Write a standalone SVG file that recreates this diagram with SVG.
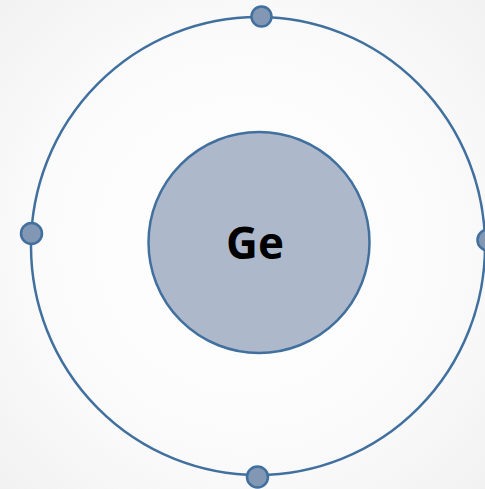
<svg xmlns="http://www.w3.org/2000/svg" width="485" height="489" viewBox="0 0 485 489">
  <defs>
    <radialGradient id="bg" cx="0.5" cy="0.5" r="0.75">
      <stop offset="0" stop-color="#ffffff"/>
      <stop offset="0.55" stop-color="#fbfbfb"/>
      <stop offset="1" stop-color="#f0f0f0"/>
    </radialGradient>
  </defs>
  <style>
    .orbit { fill: none; stroke: #41709f; stroke-width: 2.5; }
    .nucleus { fill: #adb9cb; stroke: #41709f; stroke-width: 2.5; }
    .electron { fill: #8197b4; stroke: #41709f; stroke-width: 2.5; }
    .label { font-family: "Open Sans", "Liberation Sans", sans-serif; font-weight: bold; font-size: 44px; fill: #000000; }
  </style>
  <rect x="0" y="0" width="485" height="489" fill="url(#bg)"/>
  <g id="connectors">
    <ellipse id="orbit" class="orbit" cx="258" cy="246" rx="227" ry="229"/>
  </g>
  <g id="nucleus">
    <circle class="nucleus" cx="259" cy="242.5" r="110.5"/>
    <text class="label" x="255" y="259" text-anchor="middle">Ge</text>
  </g>
  <g id="electron-top"><circle class="electron" cx="261.5" cy="16.5" r="10"/></g>
  <g id="electron-left"><circle class="electron" cx="31.5" cy="233.5" r="10.5"/></g>
  <g id="electron-right"><circle class="electron" cx="488" cy="240" r="10.5"/></g>
  <g id="electron-bottom"><circle class="electron" cx="257.5" cy="477" r="10.5"/></g>
</svg>
